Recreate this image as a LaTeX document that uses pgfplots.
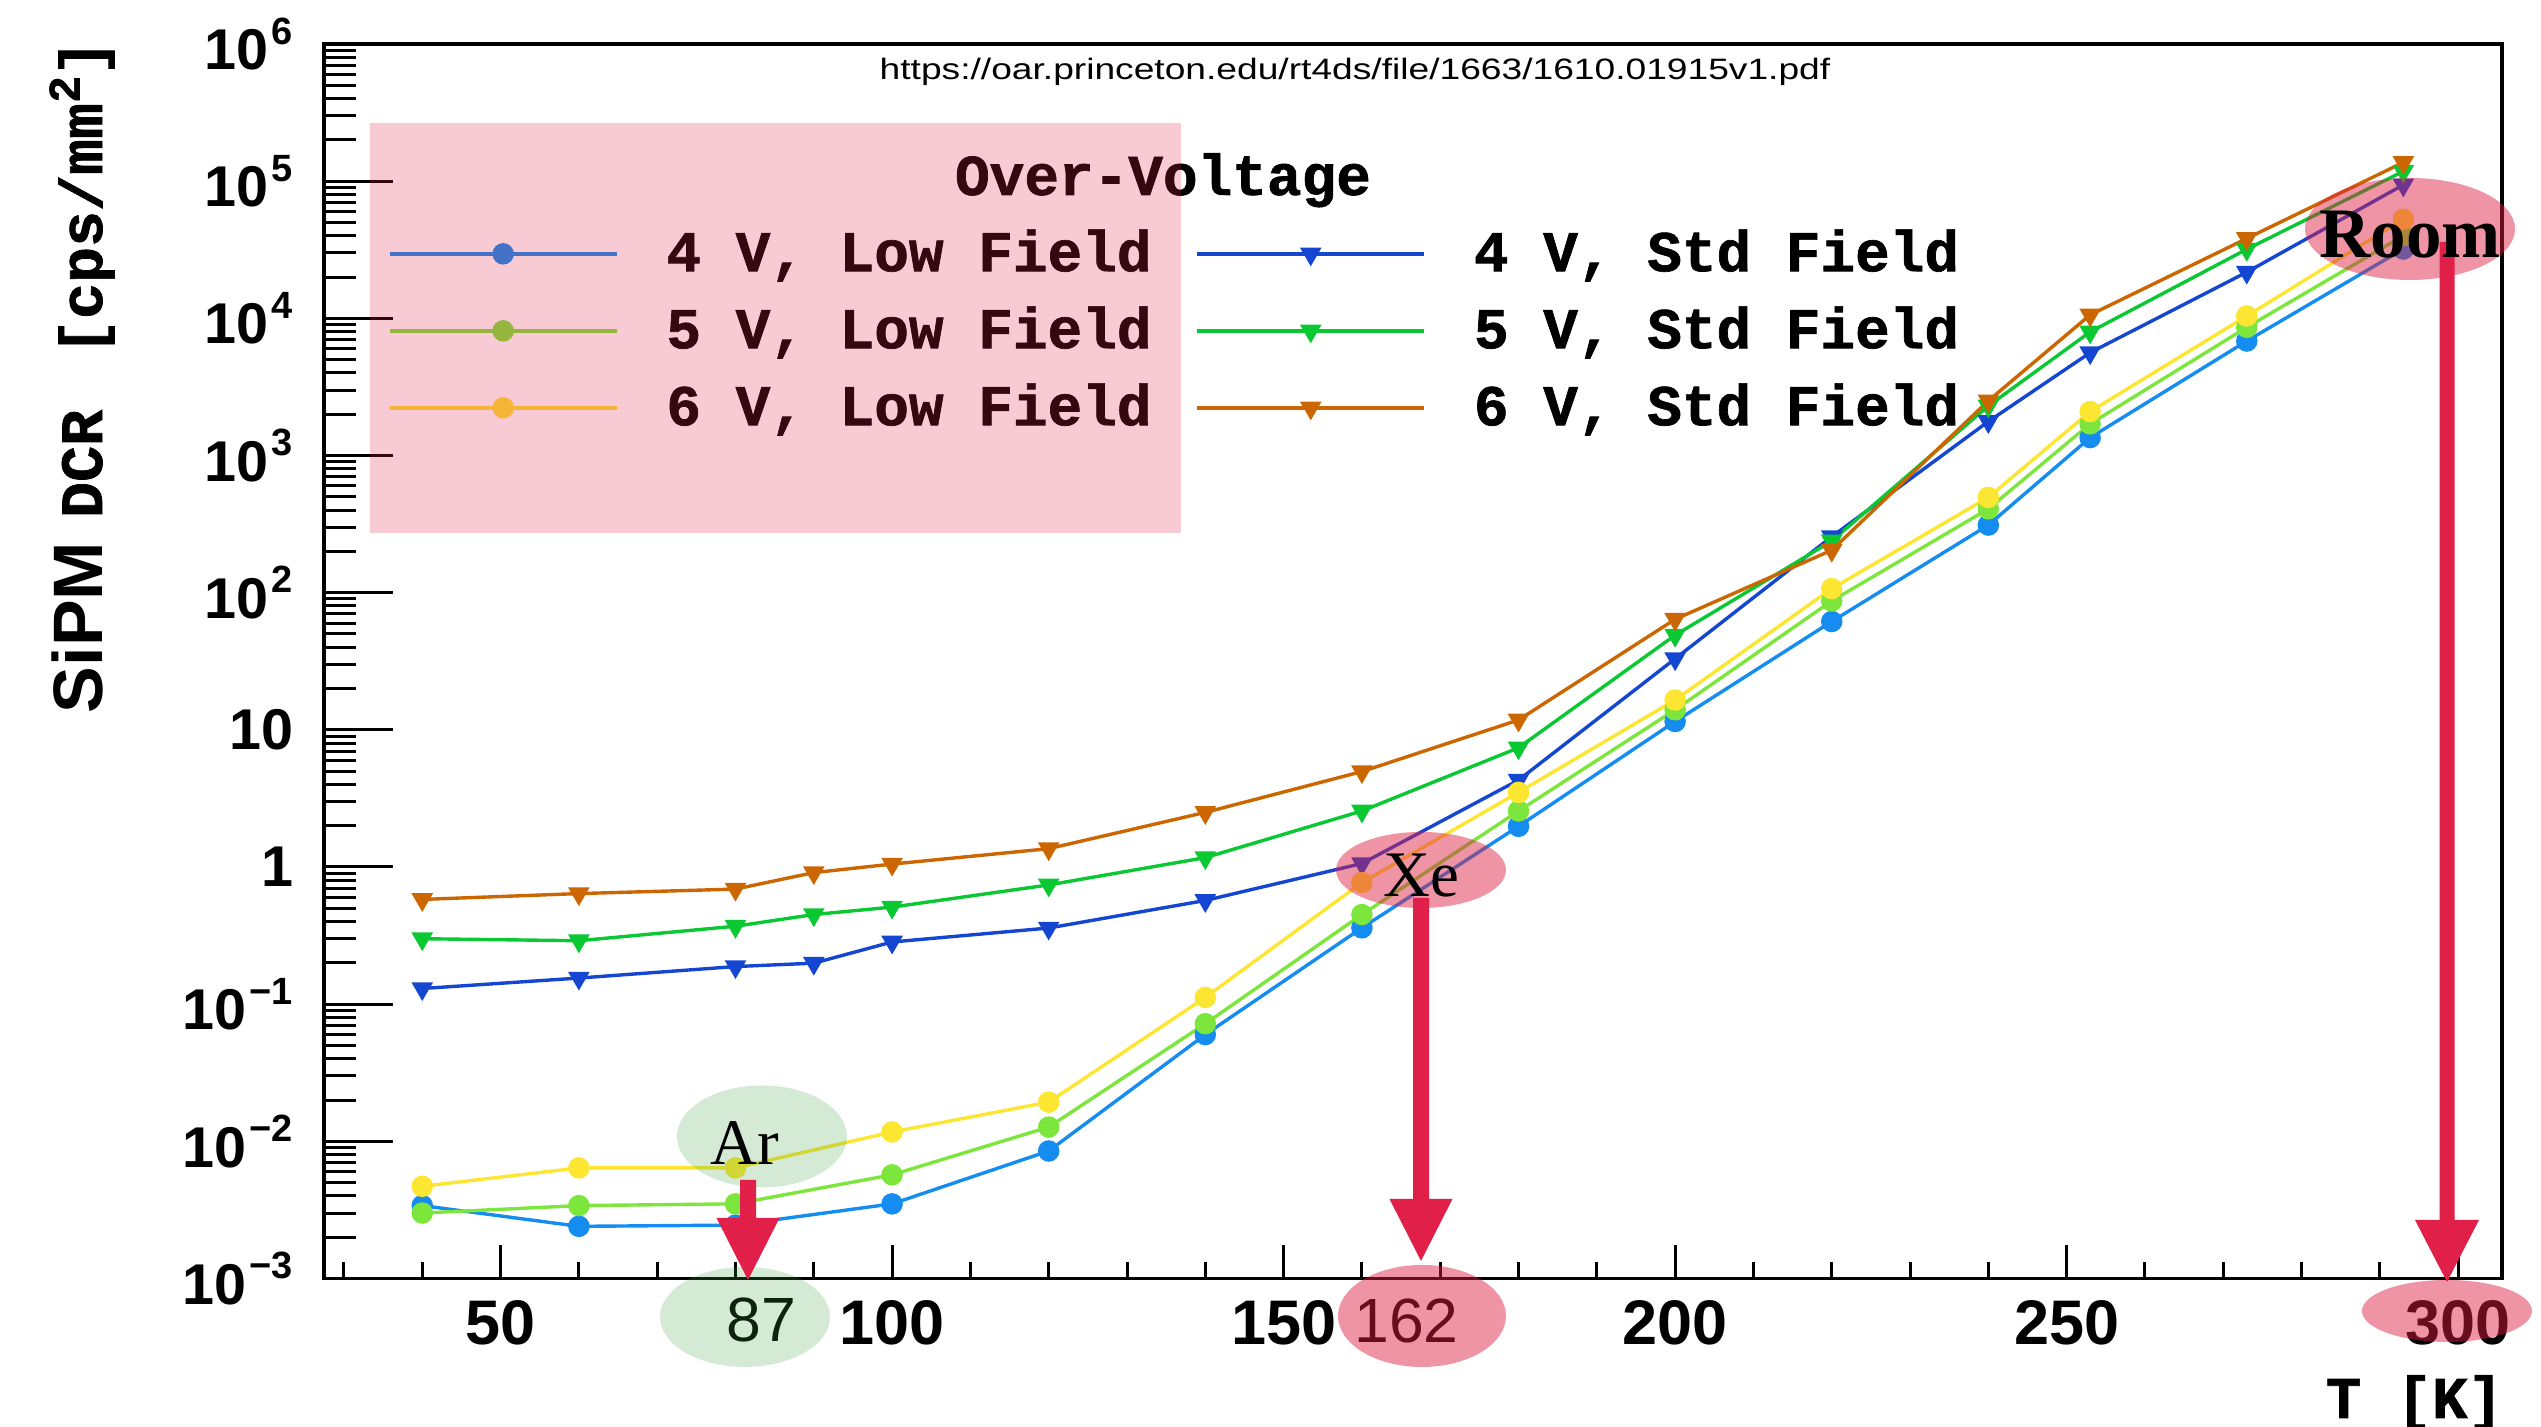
\documentclass[border=0pt]{standalone}
\usepackage{pgfplots}
\usepackage{pgfplotstable}
\pgfplotsset{compat=1.18}
\usepackage{fontspec}
\setmainfont{Liberation Sans}
\setsansfont{Liberation Sans}
\setmonofont{Liberation Mono}
\newfontfamily\seriffont{Liberation Serif}
\newfontfamily\courbf{Liberation Mono}[UprightFeatures={FakeBold=1.2}, BoldFeatures={FakeBold=1.2}]
\newcommand{\legfont}{\fontsize{11.55pt}{13pt}\selectfont\courbf\bfseries}
\newcommand{\ytl}{\fontsize{11.5pt}{13pt}\selectfont\sffamily\bfseries}
\newcommand{\sx}[1]{\kern0.6pt\raisebox{5.1pt}{\fontsize{7.6pt}{8pt}\selectfont\sffamily\bfseries #1}}
\definecolor{cLowA}{RGB}{20,140,240}
\definecolor{cLowB}{RGB}{125,230,60}
\definecolor{cLowC}{RGB}{252,230,50}
\definecolor{cStdA}{RGB}{20,70,210}
\definecolor{cStdB}{RGB}{10,200,50}
\definecolor{cStdC}{RGB}{204,102,0}
\definecolor{crim}{RGB}{224,32,72}
\definecolor{pinkov}{RGB}{222,28,64}
\definecolor{greenov}{RGB}{60,160,60}

\pgfplotstableread{
T v4 v5 v6
40 0.0034 0.0030 0.0047
60 0.00240 0.0034 0.0064
80 0.00245 0.0035 0.0064
100 0.0035 0.0057 0.0117
120 0.0085 0.0127 0.0193
140 0.060 0.072 0.112
160 0.36 0.45 0.77
180 1.98 2.56 3.5
200 11.5 14.0 16.5
220 61.6 87 107
240 311 408 495
253 1350 1700 2090
273 6830 8600 10400
293 32000 40000 52800
}\lowtab

\pgfplotstableread{
T v4 v5 v6
40 0.13 0.30 0.58
60 0.155 0.29 0.64
80 0.188 0.37 0.69
90 0.199 0.45 0.91
100 0.284 0.51 1.05
120 0.359 0.74 1.36
140 0.57 1.17 2.5
160 1.06 2.56 4.96
180 4.3 7.4 11.8
200 33 49 64
220 256 238 204
240 1770 2300 2505
253 5620 7960 10600
273 21700 31900 38200
293 94000 118000 137000
}\stdtab

\begin{document}
\begin{tikzpicture}
% x ticks
\begin{axis}[ymode=log,
  scale only axis, width=435.6pt, height=246.9pt,
  at={(64.8pt,29.7pt)}, anchor=south west,
  xmin=27.45, xmax=305.6, ymin=1e-3, ymax=1e6,
  axis line style={line width=0.7pt},
  tick style={line width=0.6pt, black},
  tick align=inside,
  ytick=\empty, minor ytick={}, xtick={50,100,150,200,250,300},
  xticklabels={50,100,150,200,250,300},
  minor xtick={30,40,...,300}, xtick pos=bottom,
  major tick length=6.6pt, minor tick length=3.2pt,
  xticklabel style={font=\fontsize{12.6pt}{14pt}\selectfont\sffamily\bfseries, inner sep=0pt, yshift=-4.2pt}]
\end{axis}
% main axis
\begin{axis}[ymode=log,
  scale only axis, width=435.6pt, height=246.9pt,
  at={(64.8pt,29.7pt)}, anchor=south west,
  xmin=27.45, xmax=305.6, ymin=1e-3, ymax=1e6,
  axis line style={line width=0.7pt},
  tick style={line width=0.6pt, black},
  tick align=inside,
  xtick=\empty, minor xtick={},
  ytick={1e-3,1e-2,1e-1,1,10,100,1e3,1e4,1e5,1e6},
  yticklabels={10\sx{−3},10\sx{−2},10\sx{−1},1,10,10\sx{2},10\sx{3},10\sx{4},10\sx{5},10\sx{6}},
  minor ytick={2e-3,3e-3,4e-3,5e-3,6e-3,7e-3,8e-3,9e-3,2e-2,3e-2,4e-2,5e-2,6e-2,7e-2,8e-2,9e-2,2e-1,3e-1,4e-1,5e-1,6e-1,7e-1,8e-1,9e-1,2,3,4,5,6,7,8,9,20,30,40,50,60,70,80,90,200,300,400,500,600,700,800,900,2e3,3e3,4e3,5e3,6e3,7e3,8e3,9e3,2e4,3e4,4e4,5e4,6e4,7e4,8e4,9e4,2e5,3e5,4e5,5e5,6e5,7e5,8e5,9e5},
  ytick pos=left,
  major tick length=13.8pt, minor tick length=6.4pt,
  yticklabel style={font=\ytl, inner sep=0pt, xshift=-6pt},
  legend columns=2, legend cell align=left,
  legend image code/.code={\draw[mark repeat=2,mark phase=2,#1] plot coordinates {(0pt,0pt) (22.7pt,0pt) (45.4pt,0pt)};},
  legend style={at={(0.02938,0.8441)}, anchor=north west, draw=none, fill=none,
    inner sep=0pt, outer sep=0pt, font=\legfont, row sep=8.44pt,
    /tikz/every odd column/.append style={column sep=9.6pt},
    /tikz/every even column/.append style={column sep=8.8pt},
    nodes={inner sep=0pt, text height=6.96pt, text depth=0pt}},
  every axis plot/.append style={line width=0.68pt},
]
\addplot[cLowA, mark=*, mark size=2pt, mark options={solid, fill=cLowA, draw=cLowA, line width=0.3pt}] table[x=T,y=v4]{\lowtab};
\addlegendentry{4 V, Low Field}
\addplot[cStdA, mark=triangle*, mark size=2.2pt, mark options={solid, rotate=180, fill=cStdA, draw=cStdA, line width=0.3pt}] table[x=T,y=v4]{\stdtab};
\addlegendentry{4 V, Std Field}
\addplot[cLowB, mark=*, mark size=2pt, mark options={solid, fill=cLowB, draw=cLowB, line width=0.3pt}] table[x=T,y=v5]{\lowtab};
\addlegendentry{5 V, Low Field}
\addplot[cStdB, mark=triangle*, mark size=2.2pt, mark options={solid, rotate=180, fill=cStdB, draw=cStdB, line width=0.3pt}] table[x=T,y=v5]{\stdtab};
\addlegendentry{5 V, Std Field}
\addplot[cLowC, mark=*, mark size=2pt, mark options={solid, fill=cLowC, draw=cLowC, line width=0.3pt}] table[x=T,y=v6]{\lowtab};
\addlegendentry{6 V, Low Field}
\addplot[cStdC, mark=triangle*, mark size=2.2pt, mark options={solid, rotate=180, fill=cStdC, draw=cStdC, line width=0.3pt}] table[x=T,y=v6]{\stdtab};
\addlegendentry{6 V, Std Field}
\end{axis}

\begin{scope}[x=0.2pt, y=-0.2pt, shift={(0pt,285.4pt)}, every node/.style={inner sep=0pt, outer sep=0pt}]
  % legend title and overlay box
  \node[anchor=base] at (1163,195) {\legfont Over-Voltage};
  \fill[crim, opacity=0.24] (370,123) rectangle (1181,533);
  % URL
  \node[anchor=base] at (1355,80) {\scalebox{1.26}[1]{\fontsize{5.9pt}{7pt}\selectfont\sffamily https://oar.princeton.edu/rt4ds/file/1663/1610.01915v1.pdf}};
  % axis labels
  \node[rotate=90, anchor=base] at (102,376.5) {{\fontsize{14pt}{16pt}\selectfont\sffamily\bfseries SiPM}\hspace{4.8pt}{\fontsize{12pt}{14pt}\selectfont\courbf\bfseries DCR\hspace{11pt}[cps/mm\raisebox{4.5pt}{\fontsize{9pt}{10pt}\selectfont 2}]}};
  \node[anchor=base east] at (2503,1418) {\fontsize{11.8pt}{13pt}\selectfont\courbf\bfseries T [K]};
  % texts under overlays
  \node[anchor=base] at (1406.5,1343) {\fontsize{12.5pt}{14pt}\selectfont\sffamily 162};
  \node[anchor=base] at (761.7,1341.7) {\fontsize{12.5pt}{14pt}\selectfont\sffamily 87};
  % ellipses
  \fill[pinkov, opacity=0.47] (1421,870) ellipse [x radius=85, y radius=38];
  \fill[pinkov, opacity=0.47] (1422,1316) ellipse [x radius=84, y radius=51];
  \fill[pinkov, opacity=0.47] (2410,229) ellipse [x radius=105, y radius=51];
  \fill[pinkov, opacity=0.47] (2447,1311) ellipse [x radius=85, y radius=31];
  \fill[greenov, opacity=0.22] (762,1136.5) ellipse [x radius=85, y radius=51];
  \fill[greenov, opacity=0.22] (745,1317) ellipse [x radius=85, y radius=50];
  % arrows
  \fill[crim] (740,1180) -- (756,1180) -- (756,1218) -- (779.5,1218) -- (748,1280) -- (716.5,1218) -- (740,1218) -- cycle;
  \fill[crim] (1413,898) -- (1429,898) -- (1429,1199) -- (1452.5,1199) -- (1421,1261) -- (1389.5,1199) -- (1413,1199) -- cycle;
  \fill[crim] (2439.5,242) -- (2454.5,242) -- (2454.5,1220) -- (2479,1220) -- (2447,1282) -- (2415,1220) -- (2439.5,1220) -- cycle;
  % labels on top
  \node[anchor=base] at (2410,258) {\fontsize{14.2pt}{16pt}\selectfont\seriffont\bfseries Room};
  \node[anchor=base] at (1421,896.7) {\fontsize{13pt}{15pt}\selectfont\seriffont Xe};
  \node[anchor=base] at (745,1165) {\fontsize{13pt}{15pt}\selectfont\seriffont Ar};
\end{scope}
\pgfresetboundingbox
\path (0pt,0pt) rectangle (508.2pt,285.4pt);
\end{tikzpicture}
\end{document}
